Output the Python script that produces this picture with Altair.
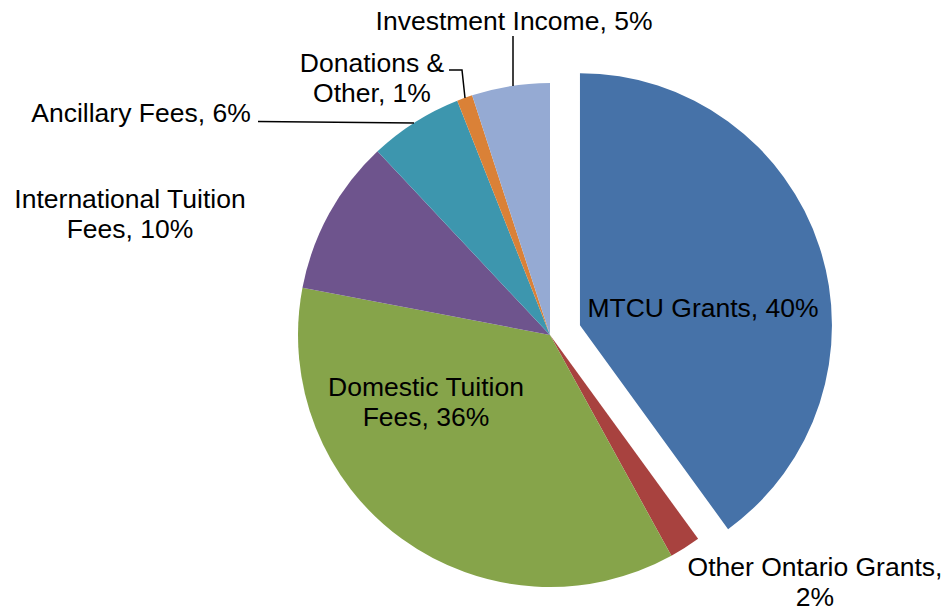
import math
import altair as alt
import pandas as pd

# ---- data ----
categories = ["MTCU Grants", "Other Ontario Grants", "Domestic Tuition Fees",
              "International Tuition Fees", "Ancillary Fees", "Donations & Other",
              "Investment Income"]
shares = [40, 2, 36, 10, 6, 1, 5]
label_texts = ["MTCU Grants, 40%", "Other Ontario Grants,\n2%", "Domestic Tuition\nFees, 36%",
               "International Tuition\nFees, 10%", "Ancillary Fees, 6%", "Donations &\nOther, 1%",
               "Investment Income, 5%"]

# ---- styling / layout ----
colors = ["#4672A8", "#A8423F", "#86A44A", "#6E548D", "#3D96AE", "#DA8137", "#95AAD3"]
explode = [31.5, 0, 0, 0, 0, 0, 0]
center_x, center_y, pie_radius = 550, 335, 252
label_x = [703, 815, 426, 130, 141, 372, 514]
label_y = [317, 576, 396, 208, 122, 72, 30]
leader_lines = {
    "Investment Income": [(513, 36), (513, 86)],
    "Donations & Other": [(449, 70), (462, 70), (465, 98)],
    "Ancillary Fees": [(258, 121.5), (414, 123)],
}
W, H = 935, 599

# ---- build tables ----
rows = []
cum = 0.0
for cat, s, ex in zip(categories, shares, explode):
    start, end = cum, cum + s
    mid = (start + end) / 2 / 100 * 2 * math.pi
    rows.append({
        "category": cat, "share": s, "start": start, "end": end,
        "cx": center_x + ex * math.sin(mid), "cy": center_y - ex * math.cos(mid),
    })
    cum = end
arcs = pd.DataFrame(rows)

labels = pd.DataFrame({"text": label_texts, "x": label_x, "y": label_y})

lrows = []
for name, pts in leader_lines.items():
    for i, (px, py) in enumerate(pts):
        lrows.append({"line": name, "seq": i, "x": px, "y": py})
leaders = pd.DataFrame(lrows)

xs = alt.Scale(domain=[8, 8 + W], nice=False, zero=False)
ys = alt.Scale(domain=[8, 8 + H], nice=False, zero=False, reverse=True)
theta_scale = alt.Scale(domain=[0, 100], range=[0, 2 * math.pi])
color_scale = alt.Scale(domain=categories, range=colors)

pie = alt.Chart(arcs).mark_arc(radius=pie_radius, stroke=None).encode(
    x=alt.X("cx:Q", scale=xs, axis=None),
    y=alt.Y("cy:Q", scale=ys, axis=None),
    theta=alt.Theta("start:Q", scale=theta_scale),
    theta2="end:Q",
    color=alt.Color("category:N", scale=color_scale, legend=None),
)

lines = alt.Chart(leaders).mark_line(color="black", strokeWidth=1.5).encode(
    x=alt.X("x:Q", scale=xs, axis=None),
    y=alt.Y("y:Q", scale=ys, axis=None),
    detail="line:N",
    order="seq:Q",
)

text = alt.Chart(labels).mark_text(
    font="Liberation Sans", fontSize=26.5, color="black", align="center",
    baseline="alphabetic", lineBreak="\n", lineHeight=30,
).encode(
    x=alt.X("x:Q", scale=xs, axis=None),
    y=alt.Y("y:Q", scale=ys, axis=None),
    text="text:N",
)

chart = alt.layer(pie, lines, text).properties(
    width=W, height=H, padding=0,
    autosize=alt.AutoSizeParams(type="none"),
).configure_view(stroke=None)

chart.save("out.html", embed_options={"renderer": "svg", "actions": False})
